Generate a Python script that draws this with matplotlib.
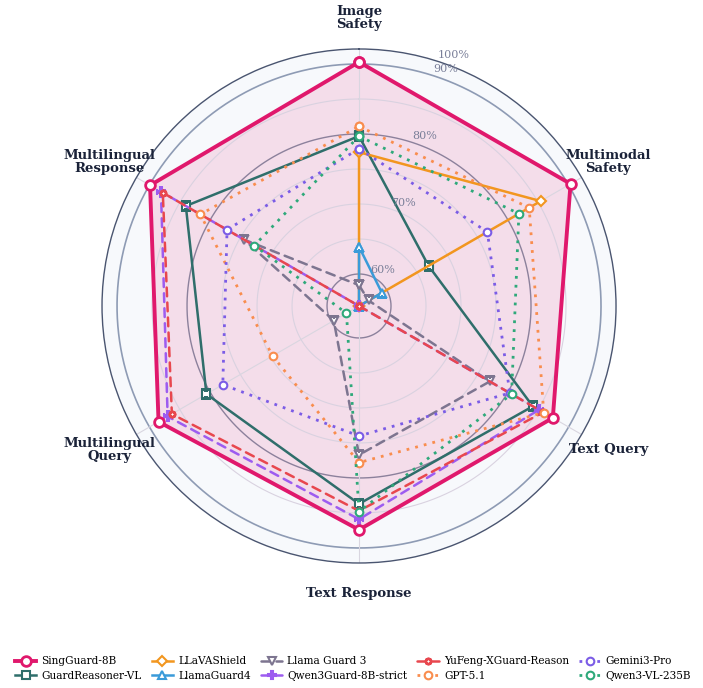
import numpy as np
import matplotlib
matplotlib.use('Agg')
import matplotlib.pyplot as plt

plt.rcParams['font.family'] = 'DejaVu Serif'

# axes, clockwise from the top
categories = ['Image\nSafety', 'Multimodal\nSafety', 'Text Query',
              'Text Response', 'Multilingual\nQuery', 'Multilingual\nResponse']

# scores in %, 0 = not supported (drawn at the centre)
singguard = [91.3, 91.5, 87.4, 87.4, 88.5, 89.9]
guardreasoner = [79.7, 66.9, 84.1, 83.7, 80.6, 84.0]
llavashield = [77.4, 85.4, 0, 0, 0, 0]
llamaguard4 = [63.9, 59.2, 0, 0, 0, 0]
llamaguard3 = [58.4, 57.0, 77.0, 76.7, 59.6, 74.4]
qwen3guard = [0, 0, 85.1, 85.9, 87.0, 88.1]
yufeng = [0, 0, 85.8, 84.7, 86.3, 87.8]
gpt51 = [81.1, 83.5, 85.9, 77.8, 69.7, 81.6]
gemini3 = [77.9, 76.6, 80.3, 74.0, 77.9, 77.2]
qwen3vl = [79.7, 81.8, 80.6, 84.8, 57.5, 72.7]

tick_values = [60, 70, 80, 90, 100]

R0 = 55.43  # value at the centre


def fwd(v):
    v = np.asarray(v, dtype=float)
    return np.where(v <= 90, (v - R0) * 7.0, 242 + (v - 90) * 1.5)


def inv(r):
    r = np.asarray(r, dtype=float)
    return np.where(r <= 242, r / 7.0 + R0, 90 + (r - 242) / 1.5)


dash = (0, (3.5, 2.5))
dot = (0, (1, 2.2))
series = [
    ('SingGuard-8B', singguard, '#e0186c', '-', 'o', 2.8),
    ('GuardReasoner-VL', guardreasoner, '#2f6e6b', '-', 's', 1.8),
    ('LLaVAShield', llavashield, '#f2961f', '-', 'D', 1.8),
    ('LlamaGuard4', llamaguard4, '#3a9bd9', '-', '^', 1.8),
    ('Llama Guard 3', llamaguard3, '#7d7590', dash, 'v', 1.8),
    ('Qwen3Guard-8B-strict', qwen3guard, '#9d5cf0', dash, 'P', 1.8),
    ('YuFeng-XGuard-Reason', yufeng, '#e8474e', dash, (8, 1, 0), 1.8),
    ('GPT-5.1', gpt51, '#f98d4e', dot, 'o', 2.0),
    ('Gemini3-Pro', gemini3, '#7b5ce6', dot, 'o', 2.0),
    ('Qwen3-VL-235B', qwen3vl, '#2ea97a', dot, 'o', 2.0),
]

fig = plt.figure(figsize=(7.03, 6.88), dpi=100)
ax = fig.add_axes([0.1451, 0.1817, 0.7312, 0.7471], projection='polar')
ax.set_theta_offset(np.pi / 2)
ax.set_theta_direction(-1)
ax.set_rscale('function', functions=(fwd, inv))
ax.set_ylim(R0, 100)
ax.set_facecolor('#f7f9fc')
ax.spines['polar'].set_color('#4a5570')
ax.spines['polar'].set_linewidth(1.0)

angles = np.linspace(0, 2 * np.pi, len(categories), endpoint=False)
ax.set_xticks(angles)
ax.set_xticklabels([])
ax.set_yticks([])
ax.xaxis.grid(True, color='#d9d6e0', lw=0.8)
ax.yaxis.grid(False)

# rings
circ = np.linspace(0, 2 * np.pi, 400)
for v in [65, 70, 75, 85]:
    ax.plot(circ, np.full_like(circ, v), color='#d9d2e0', lw=0.8, zorder=1.5)
for v in [60, 80]:
    ax.plot(circ, np.full_like(circ, v), color='#8c819c', lw=1.0, zorder=1.5)
ax.plot(circ, np.full_like(circ, 90), color='#8e9bb4', lw=1.2, zorder=1.5)

ang_closed = np.concatenate([angles, angles[:1]])

for name, vals, color, ls, mk, lw in series:
    v = np.clip(np.array(vals, dtype=float), R0, None)
    v = np.concatenate([v, v[:1]])
    big = name == 'SingGuard-8B'
    if big:
        ax.fill(ang_closed, v, color=color, alpha=0.12, zorder=1, lw=0)
    ax.plot(ang_closed, v, color=color, ls=ls, lw=lw, marker=mk,
            ms=7 if big else 5.5, mfc='white', mec=color,
            mew=2.0 if big else 1.5, label=name, zorder=4 if big else 3,
            dash_capstyle='round' if ls == dash else 'butt')

# radial tick labels
for t in tick_values:
    rpx = float(fwd(t)) + 6
    a = np.deg2rad(72.5)
    x = 0.5 + 0.5 * rpx / 257 * np.cos(a)
    y = 0.5 + 0.5 * rpx / 257 * np.sin(a)
    ax.text(x, y, f'{t}%', transform=ax.transAxes, ha='left', va='center',
            fontsize=8, color='#7a7f99', zorder=5)

# category labels
for ang, lab in zip(angles, categories):
    a = np.pi / 2 - ang
    x = 0.5 + 0.5 * 288 / 257 * np.cos(a)
    y = 0.5 + 0.5 * 288 / 257 * np.sin(a)
    ax.text(x, y, lab, transform=ax.transAxes, ha='center', va='center',
            fontsize=9.5, fontweight='bold', color='#1a2238',
            linespacing=1.0)

fig.legend(loc='center left', bbox_to_anchor=(0.008, 0.028), ncol=5,
           frameon=False, fontsize=7.6, handlelength=2.0, handletextpad=0.5,
           columnspacing=0.95, labelspacing=0.45)

fig.savefig('out.png', dpi=100)
